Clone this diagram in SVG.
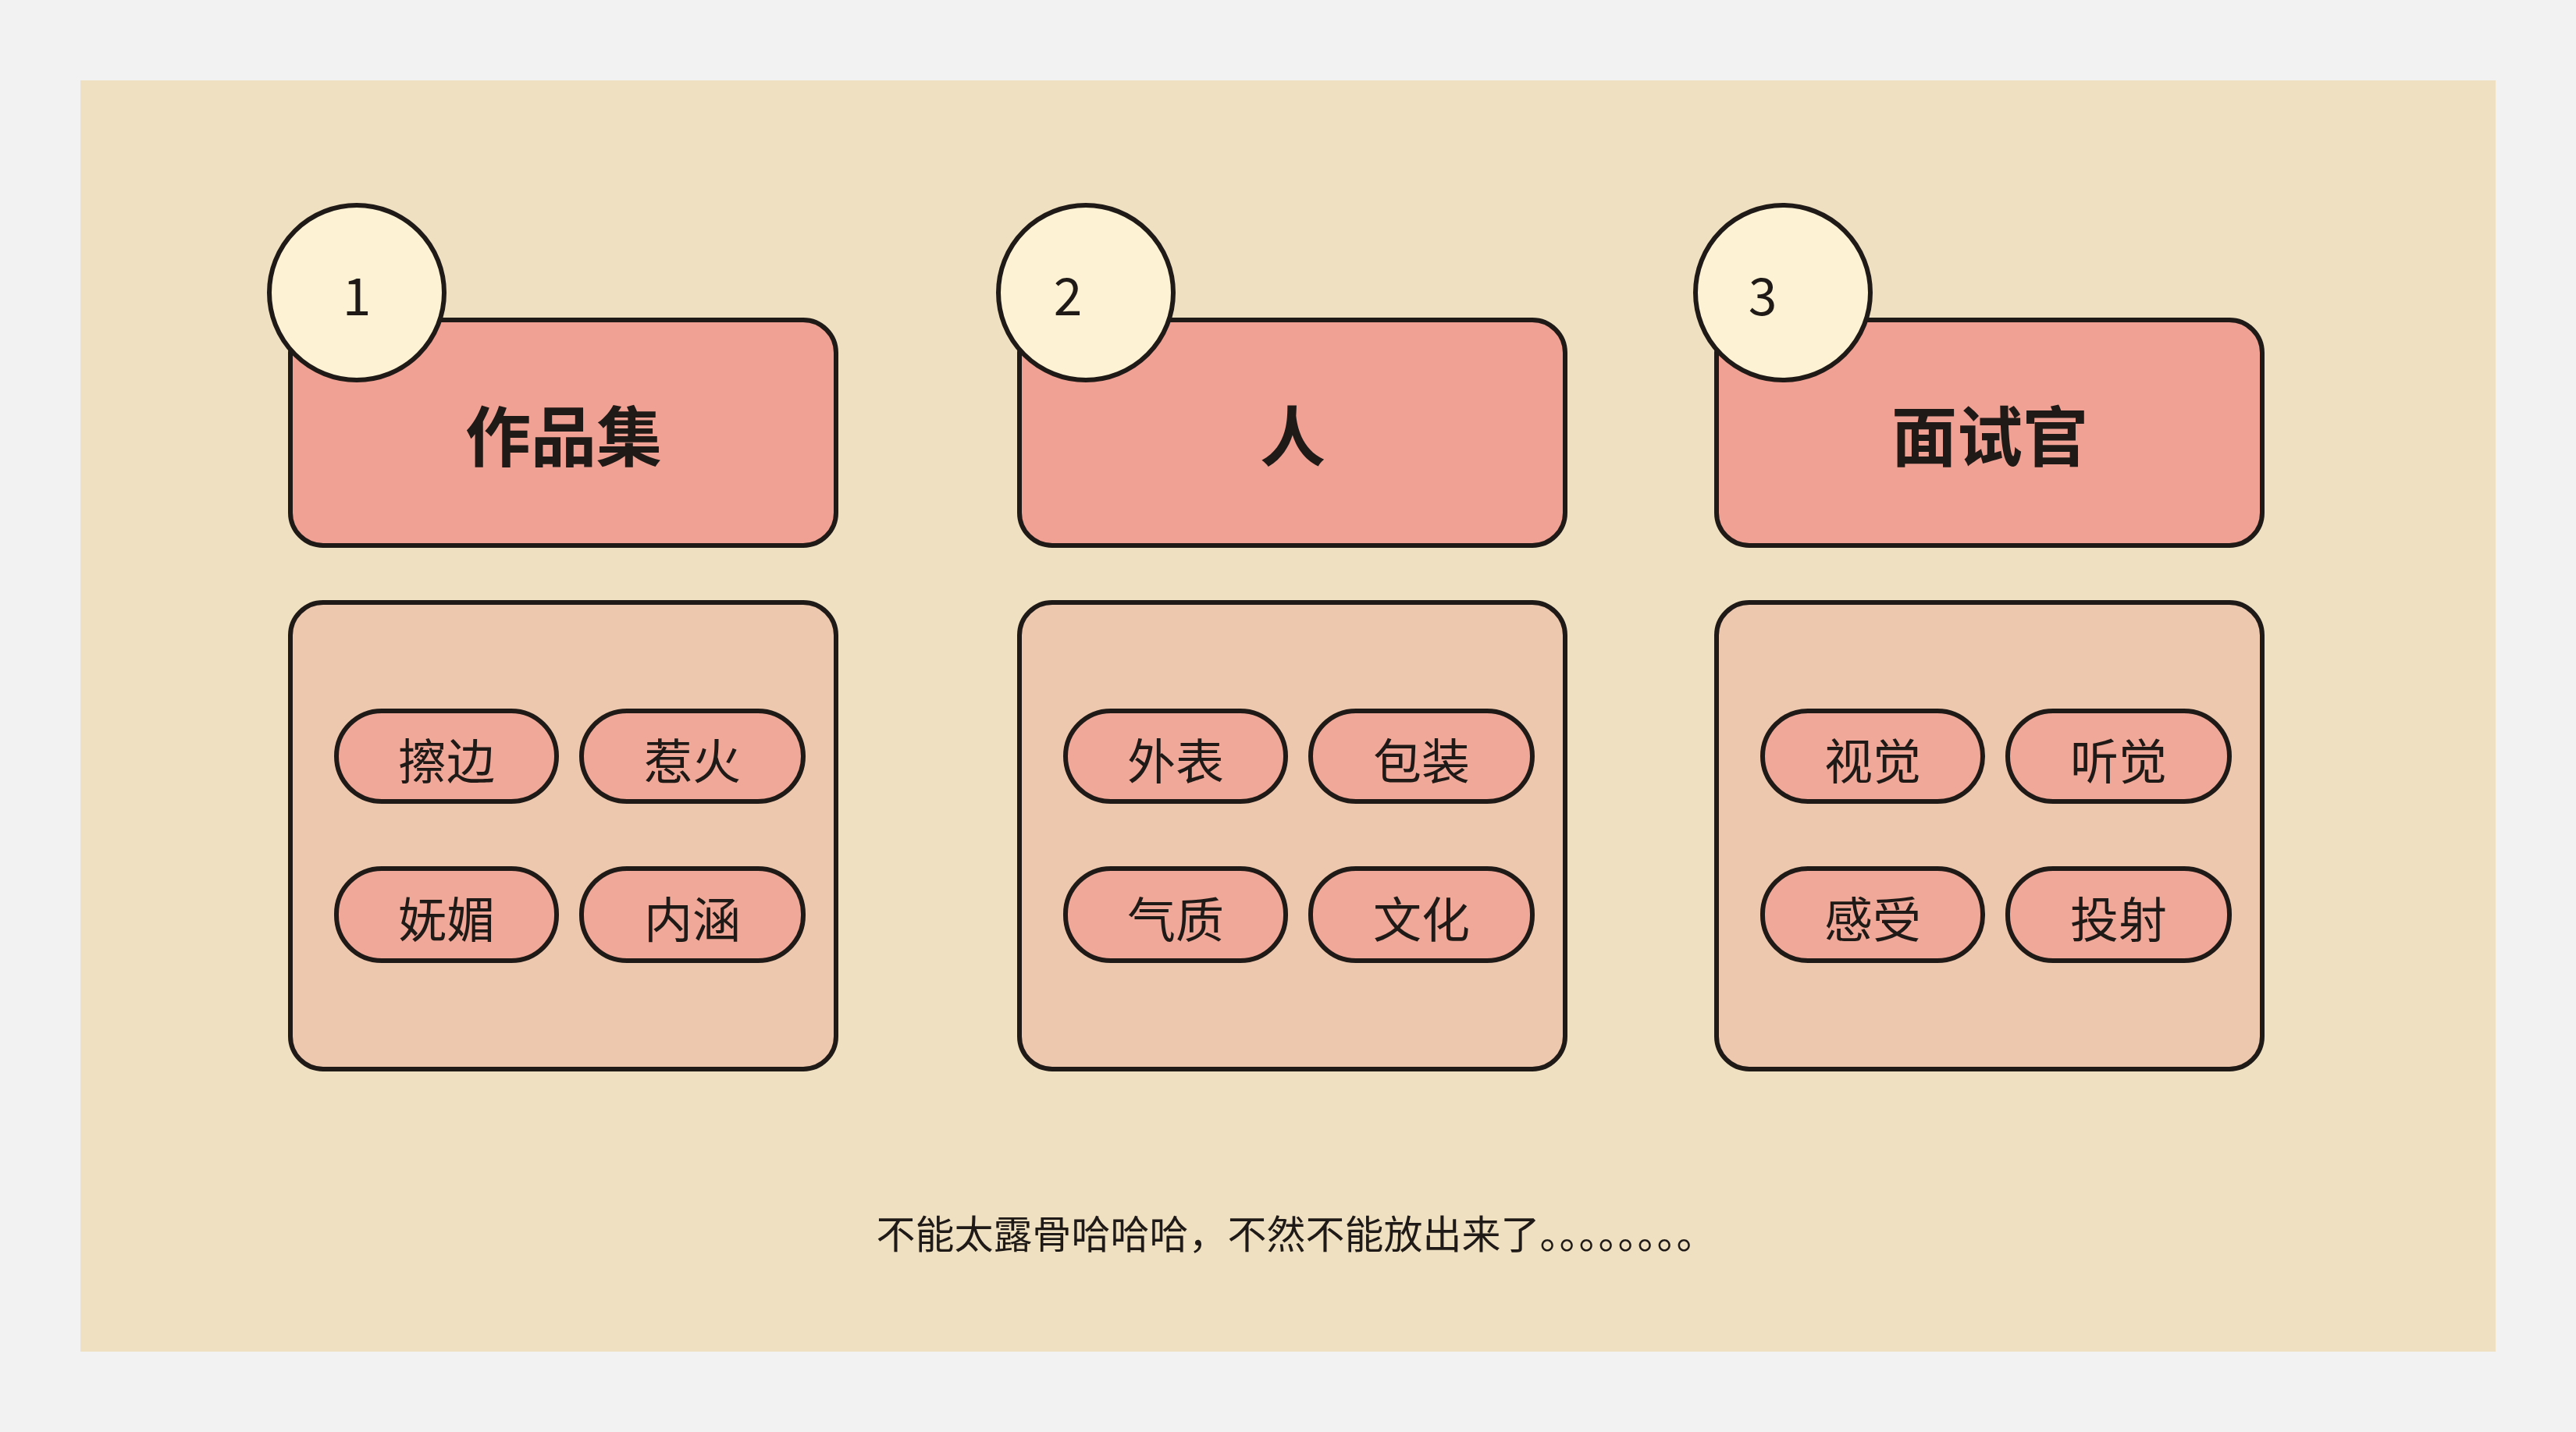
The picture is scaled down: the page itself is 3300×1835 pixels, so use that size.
<svg xmlns="http://www.w3.org/2000/svg" width="3300" height="1835" viewBox="0 0 3300 1835">
<style>
.s{stroke:#1f1a17;stroke-width:6}
.h{fill:#f0a193}
.b{fill:#eec8ae}
.p{fill:#f0a898}
.c{fill:#fdf2d3}
text{font-family:"Noto Sans CJK SC","Noto Sans",sans-serif;fill:#1f1a17;text-anchor:middle;dominant-baseline:central}
.ht{font-size:84px;font-weight:bold}
.pt{font-size:62px}
.ct{font-size:66px}
</style>
<rect width="3300" height="1835" fill="#f2f2f2"/>
<rect x="103" y="103" width="3094" height="1629" fill="#efe0c1"/>
<defs>
<g id="card">
<rect class="s h" x="372" y="410" width="699" height="289" rx="42"/>
<rect class="s b" x="372" y="772" width="699" height="598" rx="42"/>
<rect class="s p" x="431" y="911" width="282" height="116" rx="58"/>
<rect class="s p" x="745" y="911" width="284" height="116" rx="58"/>
<rect class="s p" x="431" y="1113" width="282" height="118" rx="58"/>
<rect class="s p" x="745" y="1113" width="284" height="118" rx="58"/>
<circle class="s c" cx="457" cy="375" r="112"/>
</g>
</defs>
<g id="node1"><use href="#card"/>
<text class="ct" x="457" y="375">1</text><text class="ht" x="722" y="554">作品集</text>
<text class="pt" x="572" y="972">擦边</text><text class="pt" x="887" y="972">惹火</text>
<text class="pt" x="572" y="1175">妩媚</text><text class="pt" x="887" y="1175">内涵</text></g>
<g id="node2"><use href="#card" x="934"/>
<text class="ct" x="1368" y="375">2</text><text class="ht" x="1656" y="554">人</text>
<text class="pt" x="1506" y="972">外表</text><text class="pt" x="1821" y="972">包装</text>
<text class="pt" x="1506" y="1175">气质</text><text class="pt" x="1821" y="1175">文化</text></g>
<g id="node3"><use href="#card" x="1827"/>
<text class="ct" x="2258" y="375">3</text><text class="ht" x="2549" y="554">面试官</text>
<text class="pt" x="2399" y="972">视觉</text><text class="pt" x="2714" y="972">听觉</text>
<text class="pt" x="2399" y="1175">感受</text><text class="pt" x="2714" y="1175">投射</text></g>
<g id="connectors"/>
<text x="1660" y="1578" style="font-size:50px">不能太露骨哈哈哈，不然不能放出来了。。。。。。。。</text>
</svg>
